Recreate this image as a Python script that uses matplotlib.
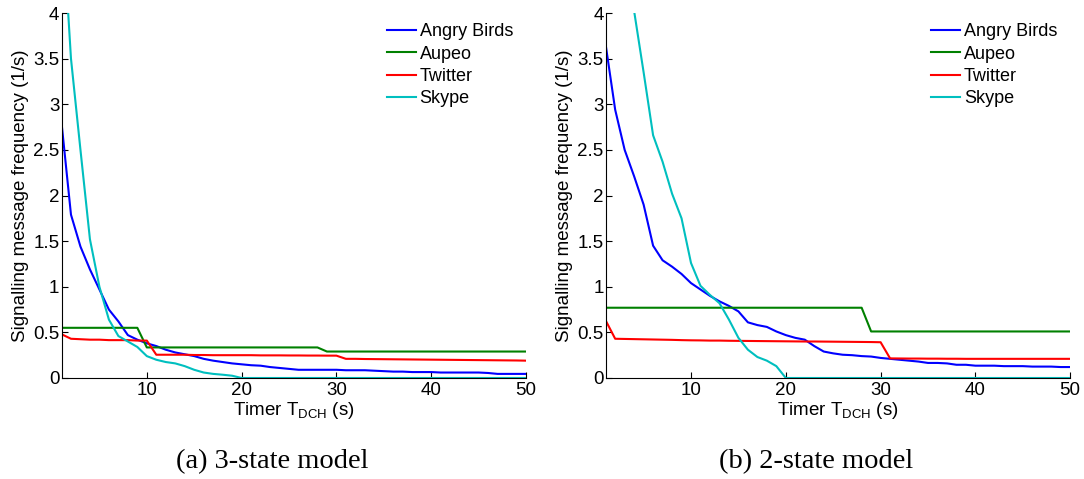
import matplotlib
matplotlib.use("Agg")
import matplotlib.pyplot as plt
import numpy as np

plt.rcParams['font.family'] = ['Liberation Sans', 'DejaVu Sans']
plt.rcParams['mathtext.fontset'] = 'custom'
plt.rcParams['mathtext.rm'] = 'Liberation Sans'
plt.rcParams['mathtext.it'] = 'Liberation Sans'

# timer values (s)
timer = np.arange(1, 51)

# (a) 3-state model
birds_3 = [2.80, 1.79, 1.44, 1.19, 0.97, 0.75, 0.62, 0.47, 0.42, 0.38,
           0.35, 0.31, 0.28, 0.26, 0.24, 0.21, 0.19, 0.175, 0.16, 0.15,
           0.14, 0.135, 0.12, 0.11, 0.10, 0.09, 0.09, 0.09, 0.09, 0.09,
           0.085, 0.085, 0.085, 0.08, 0.075, 0.07, 0.07, 0.065, 0.065, 0.065,
           0.06, 0.06, 0.06, 0.06, 0.06, 0.055, 0.045, 0.045, 0.045, 0.045]
aupeo_3 = [0.55] * 9 + [0.335] * 19 + [0.29] * 22
twitter_3 = [0.48, 0.43, 0.425, 0.42, 0.42, 0.415, 0.415, 0.415, 0.41, 0.41,
             0.255, 0.255, 0.255, 0.255, 0.252, 0.252, 0.25, 0.25, 0.25, 0.25,
             0.25, 0.248, 0.248, 0.248, 0.247, 0.247, 0.246, 0.246, 0.245, 0.245,
             0.21, 0.21, 0.208, 0.207, 0.206, 0.205, 0.204, 0.203, 0.202, 0.201,
             0.2, 0.199, 0.198, 0.197, 0.196, 0.195, 0.194, 0.193, 0.192, 0.19]
skype_3 = [5.2, 3.5, 2.5, 1.52, 1.0, 0.64, 0.46, 0.40, 0.34, 0.24,
           0.20, 0.175, 0.16, 0.13, 0.09, 0.06, 0.045, 0.036, 0.025, 0.0] + [0.0] * 30

# (b) 2-state model
birds_2 = [3.65, 2.94, 2.50, 2.21, 1.90, 1.45, 1.29, 1.22, 1.14, 1.04,
           0.97, 0.90, 0.84, 0.79, 0.73, 0.61, 0.58, 0.56, 0.51, 0.47,
           0.44, 0.42, 0.35, 0.29, 0.27, 0.255, 0.25, 0.24, 0.235, 0.22,
           0.21, 0.20, 0.19, 0.18, 0.165, 0.165, 0.16, 0.145, 0.145, 0.135,
           0.135, 0.135, 0.13, 0.13, 0.13, 0.125, 0.125, 0.125, 0.12, 0.12]
aupeo_2 = [0.77] * 28 + [0.51] * 22
twitter_2 = [0.63, 0.43, 0.428, 0.426, 0.424, 0.422, 0.42, 0.418, 0.415, 0.413,
             0.412, 0.41, 0.41, 0.408, 0.407, 0.406, 0.405, 0.404, 0.403, 0.402,
             0.401, 0.4, 0.4, 0.399, 0.398, 0.397, 0.396, 0.395, 0.394, 0.392,
             0.215, 0.214, 0.213, 0.213, 0.212, 0.212, 0.211, 0.211, 0.21, 0.21,
             0.21, 0.21, 0.21, 0.21, 0.21, 0.21, 0.21, 0.21, 0.21, 0.21]
skype_2 = [7.3, 6.0, 4.9, 4.02, 3.35, 2.66, 2.37, 2.02, 1.75, 1.26,
           1.01, 0.91, 0.82, 0.64, 0.44, 0.31, 0.23, 0.19, 0.13, 0.0] + [0.0] * 30

apps = ['Angry Birds', 'Aupeo', 'Twitter', 'Skype']
colors = ['#0000ff', '#008000', '#ff0000', '#00bfbf']
yticks = [0, 0.5, 1, 1.5, 2, 2.5, 3, 3.5, 4]
ytick_labels = ['0', '0.5', '1', '1.5', '2', '2.5', '3', '3.5', '4']
xticks = [10, 20, 30, 40, 50]
captions = ['(a) 3-state model', '(b) 2-state model']

panels = [[birds_3, aupeo_3, twitter_3, skype_3],
          [birds_2, aupeo_2, twitter_2, skype_2]]

fig = plt.figure(figsize=(10.84, 4.79), dpi=100)
lefts = [61.5 / 1084, 605.7 / 1084]
w = 464.5 / 1084
b = 1 - 378 / 479
h = 365 / 479

for i, series in enumerate(panels):
    ax = fig.add_axes([lefts[i], b, w, h])
    for s, name, c in zip(series, apps, colors):
        ax.plot(timer, s, color=c, lw=1.5, label=name)
    ax.set_xlim(1, 50)
    ax.set_ylim(0, 4)
    ax.set_xticks(xticks)
    ax.set_yticks(yticks)
    ax.set_yticklabels(ytick_labels)
    ax.tick_params(direction='in', length=4, labelsize=13.5, width=0.8)
    ax.tick_params(axis='y', pad=1.5)
    ax.tick_params(axis='x', pad=3)
    ax.spines['top'].set_visible(False)
    ax.spines['right'].set_visible(False)
    ax.set_ylabel('Signalling message frequency (1/s)', fontsize=13.5, labelpad=3)
    ax.set_xlabel('Timer T$_{\\mathrm{DCH}}$ (s)', fontsize=13.5, labelpad=0.5)
    ax.legend(loc='upper left', bbox_to_anchor=(0.70, 0.972), frameon=False,
              fontsize=13, handlelength=1.6, handletextpad=0.22,
              borderpad=0, borderaxespad=0, labelspacing=0.3)
    fig.text(lefts[i] + w / 2 - 0.02, 1 - 462 / 479, captions[i],
             family='Liberation Serif', fontsize=20.5, ha='center', va='center')

fig.savefig('out.png', dpi=100)
